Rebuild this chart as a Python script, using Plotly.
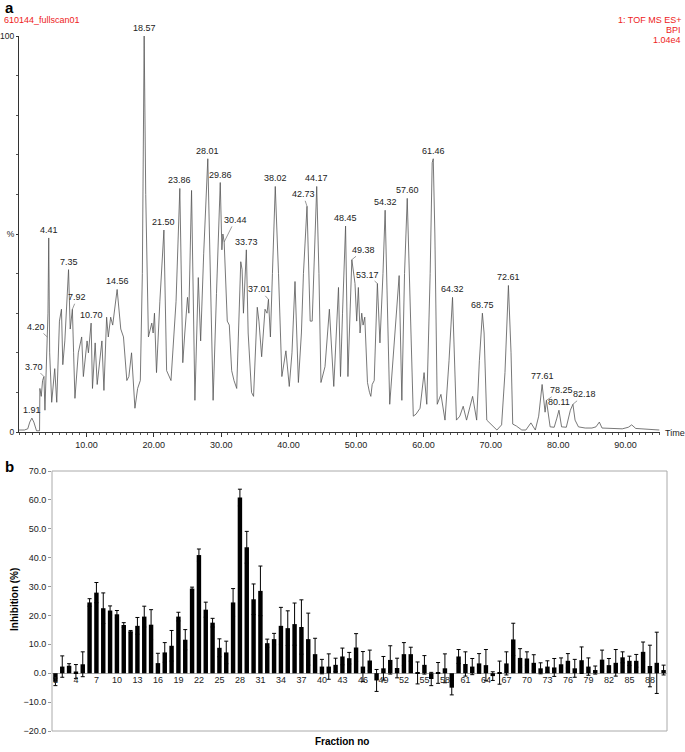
import plotly.graph_objects as go

# ---- panel a: base peak chromatogram ----
rt = [0.0, 0.8, 1.3, 1.6, 1.91, 2.2, 2.6, 3.05, 3.1, 3.3, 3.5, 3.7, 3.85, 4.0, 4.2, 4.3,
      4.41, 4.55, 4.85, 5.1, 5.3, 5.6, 6.0, 6.3, 6.5, 6.8, 7.0, 7.35, 7.6, 7.92, 8.1, 8.3,
      8.8, 9.3, 9.55, 10.1, 10.3, 10.7, 10.9, 11.3, 11.6, 12.0, 12.3, 12.6, 13.0, 13.25,
      13.6, 13.9, 14.56, 15.1, 15.5, 16.0, 16.3, 16.7, 17.2, 17.6, 18.0, 18.3, 18.57, 18.8,
      19.2, 19.7, 19.9, 20.1, 20.4, 20.9, 21.5, 21.9, 22.3, 22.55, 23.0, 23.3, 23.86, 24.3,
      24.6, 25.0, 25.2, 25.6, 26.1, 26.6, 26.95, 27.4, 28.01, 28.3, 28.8, 29.3, 29.86, 30.1,
      30.25, 30.44, 30.9, 31.2, 31.55, 31.9, 32.3, 32.9, 33.1, 33.3, 33.73, 34.0, 34.5, 34.8,
      35.35, 35.6, 36.0, 36.5, 36.8, 37.01, 37.3, 37.6, 38.02, 38.5, 39.0, 39.6, 40.1, 40.5,
      40.8, 40.95, 41.45, 41.9, 42.2, 42.73, 43.2, 43.5, 44.17, 44.5, 44.8, 45.4, 46.05, 46.5,
      46.7, 47.4, 47.7, 48.0, 48.45, 48.8, 49.38, 49.85, 50.1, 50.35, 50.6, 50.85, 51.05,
      51.3, 51.7, 52.0, 52.2, 52.4, 52.7, 53.17, 53.55, 54.0, 54.32, 55.0, 55.8, 56.4, 56.8,
      57.2, 57.6, 58.0, 58.5, 58.9, 59.5, 60.1, 60.5, 61.0, 61.3, 61.46, 61.7, 62.05, 62.6,
      63.2, 63.8, 64.32, 64.6, 64.9, 65.4, 65.9, 66.4, 66.8, 67.3, 67.9, 68.3, 68.75, 69.0,
      69.4, 70.0, 70.9, 71.6, 72.1, 72.61, 73.0, 73.25, 73.8, 74.6, 75.2, 75.95, 76.6, 77.1,
      77.61, 78.05, 78.25, 78.8, 79.4, 79.8, 80.11, 80.5, 81.2, 81.8, 82.18, 82.5, 83.0, 84.0,
      85.0, 85.6, 86.1, 86.5, 88.0, 89.5, 90.4, 90.9, 91.5, 93.0, 95.0]
intensity = [0.5, 0.5, 0.8, 2.5, 3.5, 2.5, 0.3, 0.3, 11, 9, 13, 14, 5.5, 15, 24, 30,
             49, 20, 7.5, 13, 16, 7.5, 28, 31, 17, 23, 30, 41, 26, 31, 20, 8.5,
             20, 24, 14, 23, 20, 27.5, 11, 22.5, 12, 18, 23, 10.5, 29, 24,
             29, 27, 36, 26, 24, 13, 14, 20, 6, 11, 13, 40, 100, 60,
             24, 27.5, 25, 30, 15, 33, 51, 15.5, 14, 13, 25, 33, 61.5, 17.5,
             25, 34, 30, 61, 8, 39, 23, 45, 69, 45, 8, 35, 63, 46,
             50, 48, 28, 27, 15.5, 13, 11, 43, 41, 30, 46, 25, 10, 9,
             31.5, 28, 19, 31, 30, 33.5, 24, 40, 62, 40, 14, 20.5, 11.5, 20,
             31, 38, 12.5, 25, 40, 57, 28, 28, 62, 40, 12.5, 16.5, 31, 17.5,
             11.5, 36.5, 14, 30, 52, 14, 43.5, 37.5, 28, 36.5, 25, 30, 27,
             29, 12.5, 10, 9, 12, 13, 37.5, 22.5, 40, 56, 7, 26.5, 39.5, 8,
             40, 59, 35, 4, 4.5, 6, 15, 7, 40, 68, 69, 50, 7, 9.5,
             3, 18, 34, 20, 3, 4, 6.5, 3, 6, 9, 3, 18, 30, 25,
             3, 2, 0.5, 1.8, 15, 37, 20, 2, 1.5, 0.5, 0.5, 2.3, 0.5, 4,
             12, 5, 8, 1.3, 1.2, 3.5, 5.5, 1.3, 1.2, 5.5, 7, 3, 1.3, 1.0,
             1.0, 1.3, 2.5, 1.0, 0.9, 0.8, 1.2, 1.8, 0.9, 0.7, 0.5]

peak_labels = [1.91, 3.70, 4.20, 4.41, 7.35, 7.92, 10.70, 14.56, 18.57, 21.50, 23.86,
               28.01, 29.86, 30.44, 33.73, 37.01, 38.02, 42.73, 44.17, 48.45, 49.38,
               53.17, 54.32, 57.60, 61.46, 64.32, 68.75, 72.61, 77.61, 78.25, 80.11, 82.18]
time_ticks = [10, 20, 30, 40, 50, 60, 70, 80, 90]

# ---- panel b: inhibition per fraction ----
fractions = list(range(1, 91))
inhibition = [-3.0, 2.3, 2.6, 0.6, 3.1, 24.5, 27.9, 22.5, 21.7, 20.4,
              16.7, 14.5, 16.4, 19.6, 16.8, 3.5, 7.2, 9.5, 19.6, 11.6,
              29.3, 40.9, 22.0, 17.5, 8.8, 7.2, 24.5, 60.8, 43.6, 25.6,
              28.5, 10.4, 11.8, 16.4, 15.6, 17.0, 16.0, 11.8, 6.6, 2.3,
              2.3, 2.9, 5.8, 5.2, 8.9, 2.3, 4.4, -2.5, 1.7, 4.6,
              1.8, 6.6, 6.6, 0.1, 2.9, -2.0, 0.1, 1.7, -5.0, 5.8,
              3.2, 2.3, 3.4, 2.8, -1.0, 0.2, 3.4, 11.7, 5.3, 5.1,
              3.6, 1.7, 2.3, 2.0, 3.1, 4.3, 1.7, 4.5, 2.3, 1.1,
              4.7, 2.8, 3.6, 5.5, 4.3, 4.3, 7.4, 2.5, 3.6, 1.1]
inhibition_err = [1.3, 3.7, 0.7, 2.4, 4.3, 1.3, 3.5, 5.3, 1.6, 1.3,
                  0.8, 0.3, 2.9, 3.6, 5.2, 3.4, 3.4, 5.3, 1.5, 3.5,
                  0.5, 2.1, 2.6, 1.5, 3.1, 3.9, 4.8, 2.9, 5.5, 5.3,
                  8.6, 1.4, 2.0, 6.4, 6.0, 7.3, 9.4, 9.0, 5.5, 2.5,
                  4.4, 2.3, 2.9, 2.0, 4.8, 5.2, 3.6, 3.8, 4.1, 4.9,
                  3.4, 4.0, 2.4, 3.8, 3.2, 2.3, 3.6, 5.0, 2.5, 2.4,
                  4.2, 2.8, 3.4, 5.4, 1.5, 4.0, 4.0, 5.6, 3.2, 2.3,
                  2.8, 1.9, 2.0, 3.1, 2.2, 2.5, 3.1, 4.6, 3.0, 1.4,
                  3.3, 2.3, 4.6, 1.9, 1.6, 2.2, 3.4, 7.2, 10.6, 1.7]
fraction_ticks = list(range(1, 89, 3))

W, H = 685, 752
FONT = "Liberation Sans, Arial, sans-serif"
RED = "#ee2222"


def px(x):
    return x / W


def py(y):
    return 1 - y / H


fig = go.Figure()

fig.add_trace(go.Scatter(x=rt, y=intensity, mode="lines",
                         line=dict(color="#555555", width=0.8),
                         xaxis="x", yaxis="y", hoverinfo="skip"))

fig.add_trace(go.Bar(x=fractions, y=inhibition, marker_color="black",
                     marker_line_width=0, width=0.65,
                     error_y=dict(type="data", array=inhibition_err, color="black",
                                  thickness=1, width=2),
                     xaxis="x2", yaxis="y2"))

# peak labels; a few sit off to the side with a small leader line
height_at = dict(zip(rt, intensity))
leaders = {3.70: (-10, -10), 4.20: (-11, -10), 7.92: (5, -12), 30.44: (11, -22),
           37.01: (-9, -10), 42.73: (-4, -12), 49.38: (12, -10), 53.17: (-10, -9),
           78.25: (15, -10), 82.18: (12, -10)}
ann = []
for t in peak_labels:
    base = dict(x=t, y=height_at[t], xref="x", yref="y", text=f"{t:.2f}",
                font=dict(size=9, color="#222222", family=FONT))
    if t in leaders:
        ax, ay = leaders[t]
        base.update(showarrow=True, arrowhead=0, arrowwidth=0.6, arrowcolor="#555555",
                    ax=ax, ay=ay, standoff=0)
    else:
        base.update(showarrow=False, yanchor="bottom", yshift=1)
    ann.append(base)

ann += [
    dict(x=px(3), y=py(8), text="<b>a</b>", font=dict(size=15, color="black", family=FONT),
         xanchor="left", yanchor="middle"),
    dict(x=px(2), y=py(20), text="610144_fullscan01", font=dict(size=9, color=RED, family=FONT),
         xanchor="left", yanchor="middle"),
    dict(x=px(683), y=py(20), text="1: TOF MS ES+", font=dict(size=9, color=RED, family=FONT),
         xanchor="right", yanchor="middle"),
    dict(x=px(683), y=py(30), text="BPI", font=dict(size=9, color=RED, family=FONT),
         xanchor="right", yanchor="middle"),
    dict(x=px(683), y=py(40), text="1.04e4", font=dict(size=9, color=RED, family=FONT),
         xanchor="right", yanchor="middle"),
    dict(x=px(663), y=py(433), text="Time", font=dict(size=9, color="#222222", family=FONT),
         xanchor="left", yanchor="middle"),
    dict(x=px(3), y=py(466), text="<b>b</b>", font=dict(size=15, color="black", family=FONT),
         xanchor="left", yanchor="middle"),
    dict(x=px(14), y=py(600), text="<b>Inhibition (%)</b>", textangle=-90,
         font=dict(size=10, color="black", family=FONT), xanchor="center", yanchor="middle"),
    dict(x=px(342), y=py(741), text="<b>Fraction no</b>",
         font=dict(size=10, color="black", family=FONT), xanchor="center", yanchor="middle"),
]
for a in ann[len(peak_labels):]:
    a.update(xref="paper", yref="paper", showarrow=False)

# panel b domain, and where y=0 falls so the category labels sit under the zero line
b_y0, b_y1 = py(731), py(471)
b_ymin, b_ymax = -20, 70
zero_pos = b_y0 + (0 - b_ymin) / (b_ymax - b_ymin) * (b_y1 - b_y0)

fig.update_layout(
    width=W, height=H, autosize=False,
    margin=dict(l=0, r=0, t=0, b=0, autoexpand=False),
    paper_bgcolor="white", plot_bgcolor="white",
    showlegend=False,
    font=dict(family=FONT, size=9, color="#222222"),
    xaxis=dict(domain=[px(19), px(660)], range=[0, 95.1], anchor="y", automargin=False,
               tickvals=time_ticks, tickformat=".2f", ticks="outside", ticklen=4,
               tickcolor="#333333", showline=True, linecolor="#333333", linewidth=1,
               showgrid=False, zeroline=False, tickfont=dict(size=9),
               minor=dict(dtick=1, tick0=0, ticks="outside", ticklen=2, tickcolor="#555555")),
    yaxis=dict(domain=[py(432), py(36)], range=[0, 100], anchor="x", automargin=False,
               tickvals=[0, 50, 100], ticktext=["0", "%", "100"], ticks="outside",
               ticklen=2, tickcolor="#333333", showline=True, linecolor="#333333",
               linewidth=1, showgrid=False, zeroline=False, tickfont=dict(size=8.5),
               minor=dict(dtick=10, tick0=0, ticks="outside", ticklen=2, tickcolor="#555555")),
    xaxis2=dict(domain=[px(52), px(667)], range=[0.5, 90.5], anchor="free", automargin=False,
                position=zero_pos, tickvals=fraction_ticks, ticks="", showline=False,
                showgrid=False, zeroline=False, tickfont=dict(size=9, color="#222222")),
    yaxis2=dict(domain=[b_y0, b_y1], range=[b_ymin, b_ymax], anchor="x2", automargin=False,
                dtick=10, tickformat=".1f", ticks="outside", ticklen=3,
                tickcolor="#999999", showline=False, showgrid=False,
                zeroline=True, zerolinecolor="#aaaaaa", zerolinewidth=1,
                tickfont=dict(size=9, color="#222222")),
    annotations=ann,
    shapes=[dict(type="rect", xref="x2 domain", yref="y2 domain", x0=0, x1=1, y0=0, y1=1,
                 line=dict(color="#aaaaaa", width=1), layer="below")],
)

# the page body has a default margin; drop it so the figure sits at the window corner
fig.write_html("out.html", config={"displayModeBar": False},
               post_script="document.body.style.margin='0';")
